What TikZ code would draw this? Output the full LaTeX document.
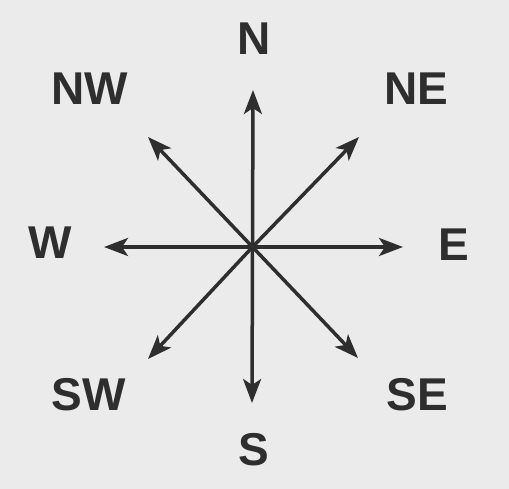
\documentclass[tikz,border=0pt]{standalone}
\usepackage{fontspec}
\setmainfont{Liberation Sans}
\usetikzlibrary{arrows.meta}
\definecolor{bg}{HTML}{EBEBEB}
\definecolor{ink}{HTML}{2E2E2E}
\begin{document}
\begin{tikzpicture}[x=1pt,y=-1pt,
  lbl/.style={inner sep=0pt,text=ink,font=\fontsize{46}{46}\selectfont\bfseries},
  ray/.style={draw=ink,line width=3.5pt,-{Stealth[length=24pt,width=18pt,inset=6pt]}}]
\fill[bg] (0,0) rectangle (509,489);
\useasboundingbox (0,0) rectangle (509,489);
\coordinate (c) at (252.5,247);
\node[lbl] (N) at (254,38.5) {N};
\node[lbl] (NE) at (416.5,89) {NE};
\node[lbl] (E) at (454,245) {E};
\node[lbl] (SE) at (417,395) {SE};
\node[lbl] (S) at (253.5,450) {S};
\node[lbl] (SW) at (89,395) {SW};
\node[lbl] (W) at (50,243) {W};
\node[lbl] (NW) at (90,89) {NW};
\coordinate (tN) at (253,90);
\coordinate (tNE) at (359,137);
\coordinate (tE) at (403,247);
\coordinate (tSE) at (358,358);
\coordinate (tS) at (252,403);
\coordinate (tSW) at (148,359);
\coordinate (tW) at (104,247);
\coordinate (tNW) at (148,137);
\foreach \t in {tN,tNE,tE,tSE,tS,tSW,tW,tNW}
  \draw[ray] (c) -- (\t);
\fill[ink] (c) circle (3.8pt);
\end{tikzpicture}
\end{document}
